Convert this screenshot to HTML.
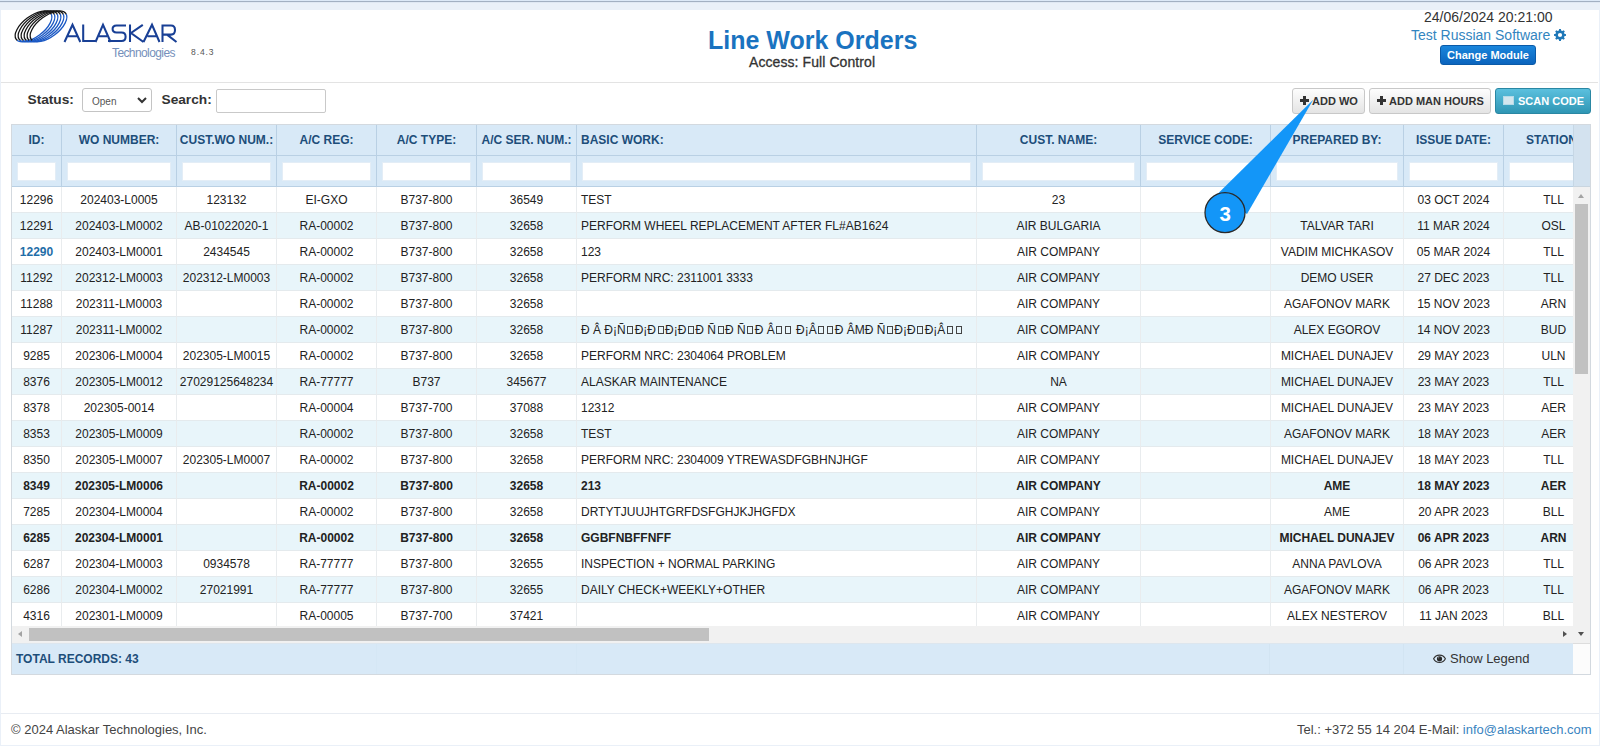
<!DOCTYPE html>
<html><head><meta charset="utf-8">
<style>
*{box-sizing:border-box;margin:0;padding:0}
html,body{width:1600px;height:746px;overflow:hidden}
body{background:#eaf0f8;font-family:"Liberation Sans",sans-serif;position:relative;color:#333}
#topbar{position:absolute;left:0;top:0;width:1600px;height:3px;background:#a3b0c2;border-top:1px solid #dde9f7;border-bottom:1px solid #e0e8f3}
#page{position:absolute;left:1px;top:10px;width:1598px;height:735px;background:#fff}
.abs{position:absolute;white-space:nowrap;line-height:1}
#hdrline{position:absolute;left:1px;top:82px;width:1597px;height:1px;background:#e3e3e3}
#footline{position:absolute;left:1px;top:713px;width:1598px;height:1px;background:#e8ecf2}
#title{left:708px;top:28px;font-size:25px;font-weight:bold;color:#1a73c0}
#access{left:749px;top:55.3px;font-size:14px;color:#333;-webkit-text-stroke:0.3px #333;letter-spacing:0.08px}
#date{left:1424px;top:10px;font-size:14px;color:#333}
#trs{left:1411px;top:28px;font-size:14px;color:#3285c0}
#cm{left:1440px;top:45px;width:96px;height:20px;border-radius:3px;background:linear-gradient(#1a86dc,#0b64bd);color:#fff;font-size:11px;font-weight:bold;text-align:center;line-height:18px;border:1px solid #0a5aa8}
#lblstatus{left:27.5px;top:92.8px;font-size:13.7px;font-weight:bold;color:#333}
#sel{left:82px;top:88px;width:70px;height:24px;border:1px solid #c4c4c4;border-radius:3px;font-size:10px;color:#555;padding-left:9px;line-height:25px;background:#fff}
#lblsearch{left:161.5px;top:93px;font-size:13.7px;font-weight:bold;color:#333}
#search{left:216px;top:89px;width:110px;height:24px;border:1px solid #c9c9c9;border-radius:2px;background:#fff}
.btn{position:absolute;top:88px;height:26px;border:1px solid #c8c8c8;border-radius:3px;background:linear-gradient(#fdfdfd,#e4e4e4);font-size:11px;font-weight:bold;color:#333;line-height:24px;white-space:nowrap}
#b1{left:1292px;width:73px;padding-left:19px}
#b2{left:1369px;width:122px;padding-left:19px}
#b3{left:1495px;width:96px;padding-left:22px;background:linear-gradient(#5bc0de,#2f96b4);border-color:#2a87a3;color:#fff}
.pl{position:absolute;left:7px;top:7px;width:9px;height:9px}
.pl:before{content:"";position:absolute;left:0;top:3px;width:9px;height:2.5px;background:#333}
.pl:after{content:"";position:absolute;left:3.2px;top:0;width:2.5px;height:9px;background:#333}
.sq{position:absolute;left:7px;top:7px;width:11px;height:9px;background:#d3e6ee;border:1px solid #b5dbe8}
#grid{position:absolute;left:11px;top:124px;width:1580px;height:551px;border:1px solid #d3d9df;background:#fff;overflow:hidden}
#ghead{position:absolute;left:0;top:0;width:1561px;height:62px;overflow:hidden;background:#d8e9f7}
#gutter{position:absolute;left:1561px;top:0;width:17px;height:62px;background:#d3e2ef;border-left:1px solid #c6d7e5;border-bottom:1px solid #c9d5df}
#gbody{position:absolute;left:0;top:62px;width:1561px;height:439px;overflow:hidden}
table{border-collapse:separate;border-spacing:0;table-layout:fixed}
td{white-space:nowrap;overflow:hidden;font-size:12px;color:#222;text-align:center;padding:0}
.hd td,.ft td{background:#d8e9f7;height:31px;border-right:1px solid #b9d0e4;border-bottom:1px solid #b9d0e4}
.hd td{color:#1d4e7a;font-weight:bold}
.fi{display:block;height:19px;margin:0 5px;background:#fff;border:1px solid #e3edf6}
.bd td{height:26px;border-right:1px solid #e9ecee;border-bottom:1px solid #e4eaed;background:#fff}
.bd tr.alt td{background:#e8f5fa}
.bd td.tl{text-align:left;padding-left:4px}
.bd tr.b td{font-weight:bold}
.bd tr.sel td:first-child{color:#1f6ea8;font-weight:bold}
.tf{display:inline-block;width:6px;height:8px;border:1px solid #444;margin:0 1.5px;vertical-align:baseline}
#vs{position:absolute;left:1561px;top:62px;width:17px;height:456px;background:#f1f1f1}
#vthumb{position:absolute;left:2px;top:17px;width:13px;height:170px;background:#c1c1c1}
#hs{position:absolute;left:0;top:501px;width:1561px;height:17px;background:#f1f1f1}
#hthumb{position:absolute;left:17px;top:2px;width:680px;height:13px;background:#c1c1c1}
.au{position:absolute;left:5px;top:7px;border-left:3.5px solid transparent;border-right:3.5px solid transparent;border-bottom:4px solid #a3a3a3}
.ad{position:absolute;left:5px;top:445px;border-left:3.5px solid transparent;border-right:3.5px solid transparent;border-top:4px solid #505050}
.al{position:absolute;left:6px;top:5px;border-top:3.5px solid transparent;border-bottom:3.5px solid transparent;border-right:4px solid #a3a3a3}
.ar{position:absolute;left:1551px;top:5px;border-top:3.5px solid transparent;border-bottom:3.5px solid transparent;border-left:4px solid #505050}
#gfoot{position:absolute;left:0;top:518px;width:1561px;height:31px;background:#d8e9f7;border-top:1px solid #dde6ee}
.fd{position:absolute;top:0;width:1px;height:31px;background:#d2e4f2}
#total{position:absolute;left:4px;top:9px;font-size:12px;font-weight:bold;color:#1d4e7a;line-height:1}
#legend{position:absolute;left:1438px;top:8px;font-size:13px;color:#333;line-height:1}
#gcorner{position:absolute;left:1561px;top:518px;width:17px;height:31px;background:#fcfcfc;border-top:1px solid #ddd}
#copy{left:11px;top:723px;font-size:13px;color:#444}
#tel{left:1297px;top:723px;font-size:13px;color:#444}
.hd td.tl{text-align:left;padding-left:4px}

</style></head><body>
<div id="topbar"></div>
<div id="page"></div>
<div id="hdrline"></div>
<div id="footline"></div>
<svg style="position:absolute;left:0;top:0" width="230" height="70" viewBox="0 0 230 70">
 <defs>
  <linearGradient id="rg" x1="0" y1="0" x2="0" y2="1">
   <stop offset="0.56" stop-color="#151515"/><stop offset="0.56" stop-color="#1a58c4"/>
  </linearGradient>
 </defs>
 <g fill="none" stroke="url(#rg)" stroke-width="1.3">
  <ellipse cx="33.5" cy="26.4" rx="21.6" ry="10.4" transform="rotate(-37 33.5 26.4)"/>
  <ellipse cx="36.5" cy="26.4" rx="21.6" ry="10.4" transform="rotate(-37 36.5 26.4)"/>
  <ellipse cx="39.5" cy="26.4" rx="21.6" ry="10.4" transform="rotate(-37 39.5 26.4)"/>
  <ellipse cx="42.5" cy="26.4" rx="21.6" ry="10.4" transform="rotate(-37 42.5 26.4)"/>
  <ellipse cx="45.5" cy="26.4" rx="21.6" ry="10.4" transform="rotate(-37 45.5 26.4)"/>
  <ellipse cx="48.5" cy="26.4" rx="21.6" ry="10.4" transform="rotate(-37 48.5 26.4)"/>
 </g>
 <g fill="none" stroke="#183f95" stroke-width="2.05" stroke-linejoin="miter" stroke-linecap="butt">
  <path d="M64.5,42 L72.5,24.8 L80.3,42 M68,36.2 L77.5,36.2"/>
  <path d="M83.2,24.5 L83.2,41 L95.5,41"/>
  <path d="M95.5,42 L103,24.8 L110.6,42 M99,36.2 L107,36.2"/>
  <path d="M126,25.4 L116.5,25.4 Q112.6,25.4 112.6,29 Q112.6,32.4 116.5,32.4 L121.5,32.4 Q125.6,32.4 125.6,36.7 Q125.6,41 121.5,41 L108,41"/>
  <path d="M130,24.5 L130,42 M142.8,24.8 L131,33 L143.5,42"/>
  <path d="M143.5,42 L152,24.8 L159.5,42 M147.5,36.2 L156.5,36.2"/>
  <path d="M162.5,42 L162.5,25.5 L171,25.5 Q175,25.5 175,30 Q175,34.6 171,34.6 L163,34.6 M167,34.6 L176.5,42"/>
 </g>
</svg>
<div class="abs" style="left:112px;top:47px;font-size:12px;color:#7590bb;letter-spacing:-0.6px">Technologies</div>
<div class="abs" style="left:191px;top:47.5px;font-size:8.5px;color:#555;letter-spacing:0.9px">8.4.3</div>

<div class="abs" id="title">Line Work Orders</div>
<div class="abs" id="access">Access: Full Control</div>
<div class="abs" id="date">24/06/2024 20:21:00</div>
<div class="abs" id="trs">Test Russian Software</div>
<div class="abs" id="cm">Change Module</div>
<div class="abs" id="lblstatus">Status:</div>
<div class="abs" id="sel">Open</div>
<div class="abs" id="lblsearch">Search:</div>
<div class="abs" id="search"></div>
<div class="btn" id="b1"><span class="pl"></span>ADD WO</div>
<div class="btn" id="b2"><span class="pl"></span>ADD MAN HOURS</div>
<div class="btn" id="b3"><span class="sq"></span>SCAN CODE</div>
<div id="grid">
 <div id="ghead"><table class="hd" style="width:1592px"><colgroup><col style="width:50px"><col style="width:115px"><col style="width:100px"><col style="width:100px"><col style="width:100px"><col style="width:100px"><col style="width:400px"><col style="width:164px"><col style="width:130px"><col style="width:133px"><col style="width:100px"><col style="width:100px"></colgroup><tr><td>ID:</td><td>WO NUMBER:</td><td>CUST.WO NUM.:</td><td>A/C REG:</td><td>A/C TYPE:</td><td>A/C SER. NUM.:</td><td class="tl">BASIC WORK:</td><td>CUST. NAME:</td><td>SERVICE CODE:</td><td>PREPARED BY:</td><td>ISSUE DATE:</td><td>STATION:</td></tr></table><table class="ft" style="width:1592px"><colgroup><col style="width:50px"><col style="width:115px"><col style="width:100px"><col style="width:100px"><col style="width:100px"><col style="width:100px"><col style="width:400px"><col style="width:164px"><col style="width:130px"><col style="width:133px"><col style="width:100px"><col style="width:100px"></colgroup><tr><td><i class="fi"></i></td><td><i class="fi"></i></td><td><i class="fi"></i></td><td><i class="fi"></i></td><td><i class="fi"></i></td><td><i class="fi"></i></td><td><i class="fi"></i></td><td><i class="fi"></i></td><td><i class="fi"></i></td><td><i class="fi"></i></td><td><i class="fi"></i></td><td><i class="fi"></i></td></tr></table></div>
 <div id="gutter"></div>
 <div id="gbody"><table class="bd" style="width:1592px"><colgroup><col style="width:50px"><col style="width:115px"><col style="width:100px"><col style="width:100px"><col style="width:100px"><col style="width:100px"><col style="width:400px"><col style="width:164px"><col style="width:130px"><col style="width:133px"><col style="width:100px"><col style="width:100px"></colgroup><tr class=""><td>12296</td><td>202403-L0005</td><td>123132</td><td>EI-GXO</td><td>B737-800</td><td>36549</td><td class="tl">TEST</td><td>23</td><td></td><td></td><td>03 OCT 2024</td><td>TLL</td></tr><tr class="alt"><td>12291</td><td>202403-LM0002</td><td>AB-01022020-1</td><td>RA-00002</td><td>B737-800</td><td>32658</td><td class="tl">PERFORM WHEEL REPLACEMENT AFTER FL#AB1624</td><td>AIR BULGARIA</td><td></td><td>TALVAR TARI</td><td>11 MAR 2024</td><td>OSL</td></tr><tr class="sel"><td>12290</td><td>202403-LM0001</td><td>2434545</td><td>RA-00002</td><td>B737-800</td><td>32658</td><td class="tl">123</td><td>AIR COMPANY</td><td></td><td>VADIM MICHKASOV</td><td>05 MAR 2024</td><td>TLL</td></tr><tr class="alt"><td>11292</td><td>202312-LM0003</td><td>202312-LM0003</td><td>RA-00002</td><td>B737-800</td><td>32658</td><td class="tl">PERFORM NRC: 2311001 3333</td><td>AIR COMPANY</td><td></td><td>DEMO USER</td><td>27 DEC 2023</td><td>TLL</td></tr><tr class=""><td>11288</td><td>202311-LM0003</td><td></td><td>RA-00002</td><td>B737-800</td><td>32658</td><td class="tl"></td><td>AIR COMPANY</td><td></td><td>AGAFONOV MARK</td><td>15 NOV 2023</td><td>ARN</td></tr><tr class="alt"><td>11287</td><td>202311-LM0002</td><td></td><td>RA-00002</td><td>B737-800</td><td>32658</td><td class="tl">Ð Â Ð¡Ñ<i class="tf"></i>Ð¡Ð<i class="tf"></i>Ð¡Ð<i class="tf"></i>Ð Ñ<i class="tf"></i>Ð Ñ<i class="tf"></i>Ð Â<i class="tf"></i><i class="tf"></i> Ð¡Â<i class="tf"></i><i class="tf"></i>Ð ÂМÐ Ñ<i class="tf"></i>Ð¡Ð<i class="tf"></i>Ð¡Â<i class="tf"></i><i class="tf"></i></td><td>AIR COMPANY</td><td></td><td>ALEX EGOROV</td><td>14 NOV 2023</td><td>BUD</td></tr><tr class=""><td>9285</td><td>202306-LM0004</td><td>202305-LM0015</td><td>RA-00002</td><td>B737-800</td><td>32658</td><td class="tl">PERFORM NRC: 2304064 PROBLEM</td><td>AIR COMPANY</td><td></td><td>MICHAEL DUNAJEV</td><td>29 MAY 2023</td><td>ULN</td></tr><tr class="alt"><td>8376</td><td>202305-LM0012</td><td>27029125648234</td><td>RA-77777</td><td>B737</td><td>345677</td><td class="tl">ALASKAR MAINTENANCE</td><td>NA</td><td></td><td>MICHAEL DUNAJEV</td><td>23 MAY 2023</td><td>TLL</td></tr><tr class=""><td>8378</td><td>202305-0014</td><td></td><td>RA-00004</td><td>B737-700</td><td>37088</td><td class="tl">12312</td><td>AIR COMPANY</td><td></td><td>MICHAEL DUNAJEV</td><td>23 MAY 2023</td><td>AER</td></tr><tr class="alt"><td>8353</td><td>202305-LM0009</td><td></td><td>RA-00002</td><td>B737-800</td><td>32658</td><td class="tl">TEST</td><td>AIR COMPANY</td><td></td><td>AGAFONOV MARK</td><td>18 MAY 2023</td><td>AER</td></tr><tr class=""><td>8350</td><td>202305-LM0007</td><td>202305-LM0007</td><td>RA-00002</td><td>B737-800</td><td>32658</td><td class="tl">PERFORM NRC: 2304009 YTREWASDFGBHNJHGF</td><td>AIR COMPANY</td><td></td><td>MICHAEL DUNAJEV</td><td>18 MAY 2023</td><td>TLL</td></tr><tr class="alt b"><td>8349</td><td>202305-LM0006</td><td></td><td>RA-00002</td><td>B737-800</td><td>32658</td><td class="tl">213</td><td>AIR COMPANY</td><td></td><td>AME</td><td>18 MAY 2023</td><td>AER</td></tr><tr class=""><td>7285</td><td>202304-LM0004</td><td></td><td>RA-00002</td><td>B737-800</td><td>32658</td><td class="tl">DRTYTJUUJHTGRFDSFGHJKJHGFDX</td><td>AIR COMPANY</td><td></td><td>AME</td><td>20 APR 2023</td><td>BLL</td></tr><tr class="alt b"><td>6285</td><td>202304-LM0001</td><td></td><td>RA-00002</td><td>B737-800</td><td>32658</td><td class="tl">GGBFNBFFNFF</td><td>AIR COMPANY</td><td></td><td>MICHAEL DUNAJEV</td><td>06 APR 2023</td><td>ARN</td></tr><tr class=""><td>6287</td><td>202304-LM0003</td><td>0934578</td><td>RA-77777</td><td>B737-800</td><td>32655</td><td class="tl">INSPECTION + NORMAL PARKING</td><td>AIR COMPANY</td><td></td><td>ANNA PAVLOVA</td><td>06 APR 2023</td><td>TLL</td></tr><tr class="alt"><td>6286</td><td>202304-LM0002</td><td>27021991</td><td>RA-77777</td><td>B737-800</td><td>32655</td><td class="tl">DAILY CHECK+WEEKLY+OTHER</td><td>AIR COMPANY</td><td></td><td>AGAFONOV MARK</td><td>06 APR 2023</td><td>TLL</td></tr><tr class=""><td>4316</td><td>202301-LM0009</td><td></td><td>RA-00005</td><td>B737-700</td><td>37421</td><td class="tl"></td><td>AIR COMPANY</td><td></td><td>ALEX NESTEROV</td><td>11 JAN 2023</td><td>BLL</td></tr></table></div>
 <div id="vs"><div id="vthumb"></div><i class="au"></i><i class="ad"></i></div>
 <div id="hs"><div id="hthumb"></div><i class="al"></i><i class="ar"></i></div>
 <div id="gfoot"><span id="total">TOTAL RECORDS: 43</span><i class="fd" style="left:364px;background:#d5e7f5"></i><i class="fd" style="left:564px;background:#d5e7f5"></i><i class="fd" style="left:1257px"></i><i class="fd" style="left:1391px"></i><span id="legend">Show Legend</span></div>
 <div id="gcorner"></div>
</div>
<div class="abs" id="copy">© 2024 Alaskar Technologies, Inc.</div>
<div class="abs" id="tel">Tel.: +372 55 14 204 E-Mail: <span style="color:#3a84bf">info@alaskartech.com</span></div>

<svg style="position:absolute;left:137px;top:97px" width="10" height="7" viewBox="0 0 10 7"><path d="M1,1 L5,5 L9,1" fill="none" stroke="#333" stroke-width="2"/></svg>

<svg style="position:absolute;left:1553px;top:28px" width="14" height="14" viewBox="0 0 14 14"><path fill-rule="evenodd" fill="#1f78b8" d="M5.90,2.43 L6.11,1.07 L7.89,1.07 L8.10,2.43 L9.46,2.99 L10.56,2.17 L11.83,3.44 L11.01,4.54 L11.57,5.90 L12.93,6.11 L12.93,7.89 L11.57,8.10 L11.01,9.46 L11.83,10.56 L10.56,11.83 L9.46,11.01 L8.10,11.57 L7.89,12.93 L6.11,12.93 L5.90,11.57 L4.54,11.01 L3.44,11.83 L2.17,10.56 L2.99,9.46 L2.43,8.10 L1.07,7.89 L1.07,6.11 L2.43,5.90 L2.99,4.54 L2.17,3.44 L3.44,2.17 L4.54,2.99Z M7,4.9 A2.1,2.1 0 1,0 7,9.1 A2.1,2.1 0 1,0 7,4.9Z"/></svg>
<svg style="position:absolute;left:1432px;top:653px" width="15" height="11" viewBox="0 0 15 11"><path d="M1.6,5.8 C4,0.9 11,0.9 13.4,5.8 C11,10.7 4,10.7 1.6,5.8Z" fill="none" stroke="#333" stroke-width="1.1"/><circle cx="7.5" cy="5.8" r="2.6" fill="#2a2a2a"/><circle cx="6.6" cy="4.8" r="0.7" fill="#777"/></svg>
<svg style="position:absolute;left:0;top:0" width="1600" height="746" viewBox="0 0 1600 746">
 <polygon points="1313.2,99.8 1217.5,194 1247,214" fill="#1396f8"/>
 <circle cx="1225" cy="212.6" r="20" fill="#1396f8" stroke="#2a2a2a" stroke-width="1.3"/>
 <text x="1225.2" y="220.8" font-family="Liberation Sans" font-weight="bold" font-size="20.5" fill="#fff" text-anchor="middle">3</text>
</svg>

</body></html>
